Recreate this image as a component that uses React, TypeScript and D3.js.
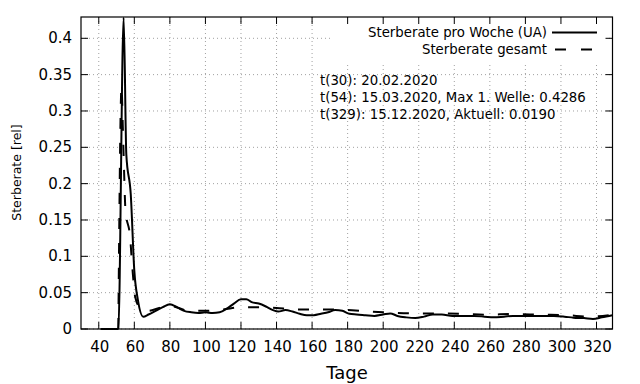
import React from "react";
import * as d3 from "d3";

const xTicks = [40, 60, 80, 100, 120, 140, 160, 180, 200, 220, 240, 260, 280, 300, 320];
const yTicks = [0, 0.05, 0.1, 0.15, 0.2, 0.25, 0.3, 0.35, 0.4];
const yTickLabels = ["0", "0.05", "0.1", "0.15", "0.2", "0.25", "0.3", "0.35", "0.4"];

// Sterberate pro Woche (UA)
const weeklyDays = [41, 51, 54, 55.5, 58, 60, 62, 65, 68, 72, 76, 80, 84, 88, 92, 96, 100, 104, 108, 112, 116, 120, 123, 126, 130, 134, 138, 141, 145, 149, 153, 157, 161, 165, 169, 173, 177, 181, 185, 190, 195, 200, 204, 208, 213, 218, 223, 228, 233, 239, 245, 251, 257, 262, 268, 273, 279, 285, 291, 296, 302, 307, 313, 318, 323, 329];
const weeklyValues = [0, 0, 0.4286, 0.24, 0.185, 0.08, 0.04, 0.017, 0.02, 0.025, 0.03, 0.034, 0.03, 0.025, 0.023, 0.022, 0.023, 0.022, 0.023, 0.028, 0.035, 0.041, 0.041, 0.037, 0.035, 0.031, 0.026, 0.024, 0.026, 0.024, 0.021, 0.019, 0.019, 0.021, 0.023, 0.026, 0.025, 0.021, 0.02, 0.019, 0.018, 0.02, 0.0215, 0.018, 0.016, 0.015, 0.017, 0.02, 0.02, 0.018, 0.018, 0.018, 0.017, 0.016, 0.017, 0.018, 0.018, 0.018, 0.018, 0.018, 0.017, 0.0156, 0.015, 0.0138, 0.016, 0.019];

// Sterberate gesamt
const totalDays = [51, 52.8, 53.5, 54.2, 55, 57.6, 59, 60.5, 63, 68, 74, 80, 85, 90, 100, 110, 120, 130, 140, 150, 160, 172, 187, 200, 215, 228, 243, 258, 273, 288, 303, 316, 329];
const totalValues = [0, 0.333, 0.28, 0.22, 0.164, 0.127, 0.081, 0.044, 0.03, 0.025, 0.029, 0.032, 0.029, 0.025, 0.025, 0.027, 0.03, 0.03, 0.029, 0.027, 0.027, 0.027, 0.025, 0.023, 0.0215, 0.0215, 0.021, 0.0197, 0.0206, 0.0197, 0.019, 0.017, 0.0197];

const legendLabels = ["Sterberate pro Woche (UA)", "Sterberate gesamt"];
const annotations = [
  "t(30): 20.02.2020",
  "t(54): 15.03.2020, Max 1. Welle: 0.4286",
  "t(329): 15.12.2020, Aktuell: 0.0190",
];

const W = 640;
const H = 384;
const L = 81;
const R = 612.5;
const T = 17;
const B = 329;
const FONT = "DejaVu Sans, sans-serif";

export default function App() {
  const x = d3.scaleLinear().domain([30, 329]).range([L, R]);
  const y = d3.scaleLinear().domain([0, (B - T) / 726.75]).range([B, T]);

  const mk = d3
    .line<[number, number]>()
    .x((d) => x(d[0]))
    .y((d) => y(d[1]))
    .curve(d3.curveMonotoneX);

  const weekly: [number, number][] = weeklyDays.map((d, i) => [d, weeklyValues[i]]);
  const total: [number, number][] = totalDays.map((d, i) => [d, totalValues[i]]);

  const tick = 7;
  const gridStyle = { stroke: "#a0a0a0", strokeWidth: 1, strokeDasharray: "1 3" };

  return (
    <svg width={W} height={H} style={{ position: "absolute", left: 0, top: 0, background: "#fff" }} fontFamily={FONT}>
      <defs>
        <clipPath id="plot">
          <rect x={L} y={T} width={R - L} height={B - T + 2} />
        </clipPath>
      </defs>
      <rect x={0} y={0} width={W} height={H} fill="#fff" />
      {xTicks.map((t) => (
        <line key={"gx" + t} x1={x(t)} x2={x(t)} y1={T} y2={B} {...gridStyle} />
      ))}
      {yTicks.map((t) => (
        <line key={"gy" + t} x1={L} x2={R} y1={y(t)} y2={y(t)} {...gridStyle} />
      ))}
      <rect x={333} y={T + 1} width={273} height={44} fill="#fff" />
      {xTicks.map((t) => (
        <g key={"tx" + t}>
          <line x1={x(t)} x2={x(t)} y1={B} y2={B - tick} stroke="#000" strokeWidth={1} />
          <line x1={x(t)} x2={x(t)} y1={T} y2={T + tick} stroke="#000" strokeWidth={1} />
          <text x={x(t) + 1} y={347} fontSize={15} textAnchor="middle" dominantBaseline="central" fill="#000">
            {t}
          </text>
        </g>
      ))}
      {yTicks.map((t, i) => (
        <g key={"ty" + t}>
          <line x1={L} x2={L + tick} y1={y(t)} y2={y(t)} stroke="#000" strokeWidth={1} />
          <line x1={R} x2={R - tick} y1={y(t)} y2={y(t)} stroke="#000" strokeWidth={1} />
          <text x={72} y={y(t)} fontSize={15} textAnchor="end" dominantBaseline="central" fill="#000">
            {yTickLabels[i]}
          </text>
        </g>
      ))}
      <rect x={L} y={T} width={R - L} height={B - T} fill="none" stroke="#000" strokeWidth={1.2} />
      <g clipPath="url(#plot)">
        <path d={mk(total) || ""} fill="none" stroke="#000" strokeWidth={2} strokeDasharray="11 14" />
        <path d={mk(weekly) || ""} fill="none" stroke="#000" strokeWidth={2} strokeLinejoin="round" />
      </g>
      <text x={547} y={32.5} fontSize={13.3} textAnchor="end" dominantBaseline="central" fill="#000">
        {legendLabels[0]}
      </text>
      <line x1={552} x2={597} y1={32.5} y2={32.5} stroke="#000" strokeWidth={2} />
      <text x={547} y={49.5} fontSize={13.3} textAnchor="end" dominantBaseline="central" fill="#000">
        {legendLabels[1]}
      </text>
      <line x1={555} x2={597} y1={49.5} y2={49.5} stroke="#000" strokeWidth={2} strokeDasharray="11 15" />
      {annotations.map((a, i) => (
        <text key={a} x={320} y={80 + i * 17} fontSize={13.3} dominantBaseline="central" fill="#000">
          {a}
        </text>
      ))}
      <text x={347} y={372} fontSize={18} textAnchor="middle" dominantBaseline="central" fill="#000">
        Tage
      </text>
      <text
        transform={`translate(16,172.5) rotate(-90)`}
        fontSize={12.5}
        textAnchor="middle"
        dominantBaseline="central"
        fill="#000"
      >
        Sterberate [rel]
      </text>
    </svg>
  );
}
